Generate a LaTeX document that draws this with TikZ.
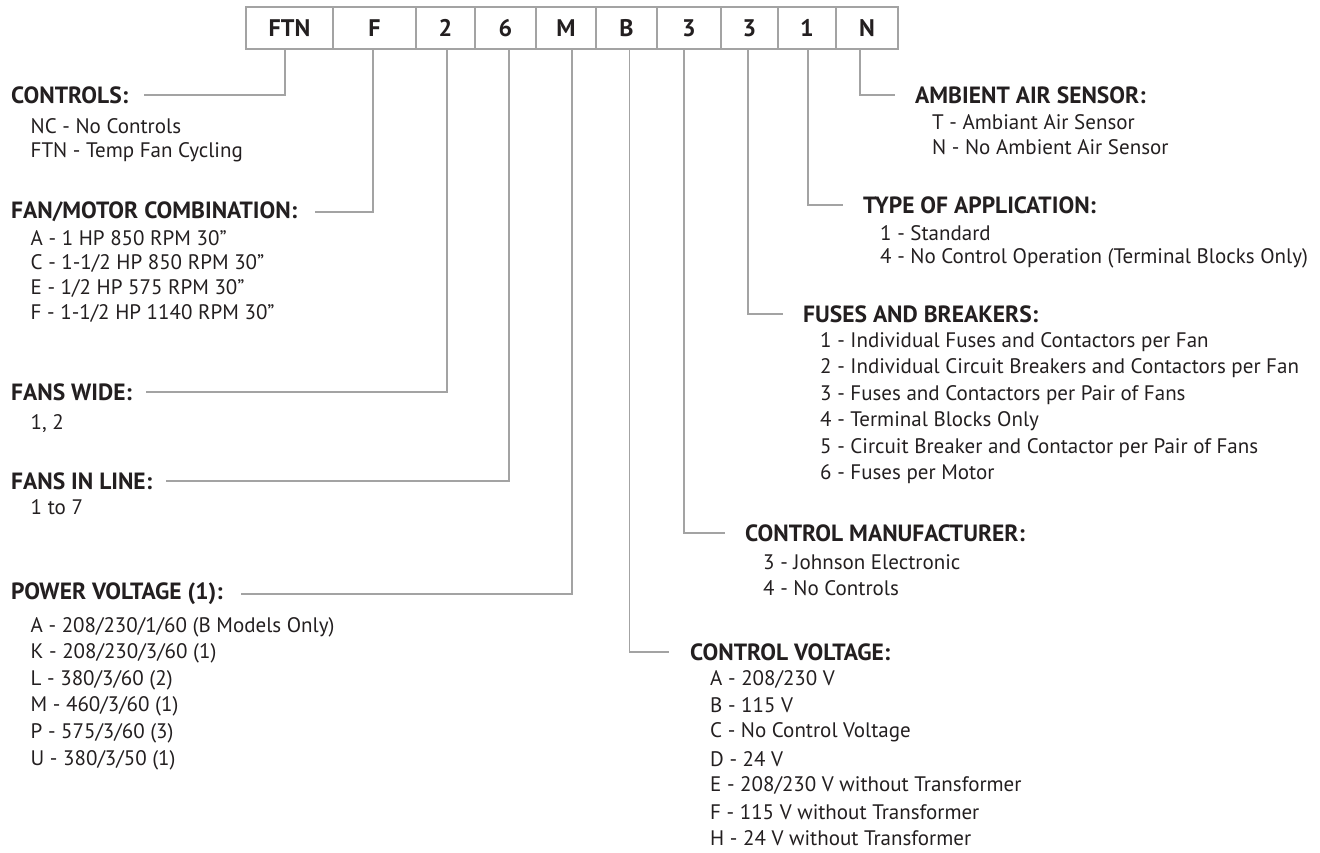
\documentclass[tikz,border=0pt]{standalone}
\usepackage{fontspec}
\setmainfont{PT Sans}
\definecolor{txt}{HTML}{231F20}
\definecolor{ln}{HTML}{A3A3A3}
\tikzset{
  hbox/.style={draw=ln, line width=1.6pt, minimum height=42pt, inner sep=0pt, font=\fontsize{24}{28}\selectfont\bfseries, text=txt},
  head/.style={anchor=west, inner sep=0pt, font=\fontsize{23.5}{28}\selectfont\bfseries, text=txt},
  itm/.style={anchor=west, inner sep=0pt, font=\fontsize{21}{25}\selectfont, text=txt},
  conn/.style={draw=ln, line width=1.2pt}
}
\newcommand\grp[5]{% prefix, x, y of first item, step, list
  \foreach \t [count=\i] in {#5} {\node[itm] (#1\i) at (#2, #3+#4*\i-#4) {\t};}}
\begin{document}
\begin{tikzpicture}[x=1pt,y=-1pt]
\useasboundingbox (0,0) rectangle (1320,853);
% code boxes
\node[hbox, minimum width=87pt] (b1) at (289.5,28) {FTN};
\node[hbox, minimum width=83pt] (b2) at (374.5,28) {F};
\node[hbox, minimum width=59pt] (b3) at (445.5,28) {2};
\node[hbox, minimum width=61pt] (b4) at (505.5,28) {6};
\node[hbox, minimum width=60pt] (b5) at (566,28) {M};
\node[hbox, minimum width=61pt] (b6) at (626.5,28) {B};
\node[hbox, minimum width=64pt] (b7) at (689,28) {3};
\node[hbox, minimum width=57pt] (b8) at (749.5,28) {3};
\node[hbox, minimum width=58pt] (b9) at (807,28) {1};
\node[hbox, minimum width=62pt] (b10) at (867,28) {N};
% left headings
\node[head] (hC) at (11,95) {CONTROLS:};
\grp{c}{30.5}{126}{26}{NC - No Controls, FTN - Temp Fan Cycling}
\node[head] (hF) at (11,212) {FAN/MOTOR COMBINATION:};
\grp{f}{30.5}{238}{25.2}{A - 1 HP 850 RPM 30", C - 1-1/2 HP 850 RPM 30", E - 1/2 HP 575 RPM 30", F - 1-1/2 HP 1140 RPM 30"}
\node[head] (hW) at (11,392) {FANS WIDE:};
\grp{w}{30.5}{424}{26}{{1, 2}}
\node[head] (hL) at (11,481) {FANS IN LINE:};
\grp{l}{30.5}{507}{26}{1 to 7}
\node[head] (hP) at (11,594) {POWER VOLTAGE (1):};
\grp{p}{30.5}{627}{26.6}{A - 208/230/1/60 (B Models Only), K - 208/230/3/60 (1), L - 380/3/60 (2), M - 460/3/60 (1), P - 575/3/60 (3), U - 380/3/50 (1)}
% right headings
\node[head] (hA) at (915,95) {AMBIENT AIR SENSOR:};
\grp{a}{932}{122}{25.5}{T - Ambiant Air Sensor, N - No Ambient Air Sensor}
\node[head] (hT) at (863,205) {TYPE OF APPLICATION:};
\grp{t}{880}{233}{25.5}{1 - Standard, 4 - No Control Operation (Terminal Blocks Only)}
\node[head] (hB) at (803,314) {FUSES AND BREAKERS:};
\grp{u}{820}{342}{26.5}{1 - Individual Fuses and Contactors per Fan, 2 - Individual Circuit Breakers and Contactors per Fan, 3 - Fuses and Contactors per Pair of Fans, 4 - Terminal Blocks Only, 5 - Circuit Breaker and Contactor per Pair of Fans, 6 - Fuses per Motor}
\node[head] (hM) at (745,533) {CONTROL MANUFACTURER:};
\grp{m}{763}{562}{26}{3 - Johnson Electronic, 4 - No Controls}
\node[head] (hV) at (690,652) {CONTROL VOLTAGE:};
\grp{v}{710}{679}{26.6}{A - 208/230 V, B - 115 V, C - No Control Voltage, D - 24 V, E - 208/230 V without Transformer, F - 115 V without Transformer, H - 24 V without Transformer}
% connectors
\draw[conn] ([xshift=-4.5pt]b1.south) |- ([xshift=16pt]hC.east);
\draw[conn] ([xshift=-1.5pt]b2.south) |- ([xshift=18pt]hF.east);
\draw[conn] ([xshift=1.5pt]b3.south) |- ([xshift=14pt]hW.east);
\draw[conn] ([xshift=3.5pt]b4.south) |- ([xshift=14pt]hL.east);
\draw[conn] ([xshift=6pt]b5.south) |- ([xshift=18pt]hP.east);
\draw[conn] ([xshift=3pt]b6.south) |- ([xshift=-21pt]hV.west);
\draw[conn] ([xshift=-5pt]b7.south) |- ([xshift=-20pt]hM.west);
\draw[conn] ([xshift=-1.5pt]b8.south) |- ([xshift=-20pt]hB.west);
\draw[conn] ([xshift=1pt]b9.south) |- ([xshift=-20pt]hT.west);
\draw[conn] ([xshift=-7pt]b10.south) |- ([xshift=-20pt]hA.west);
\end{tikzpicture}
\end{document}
